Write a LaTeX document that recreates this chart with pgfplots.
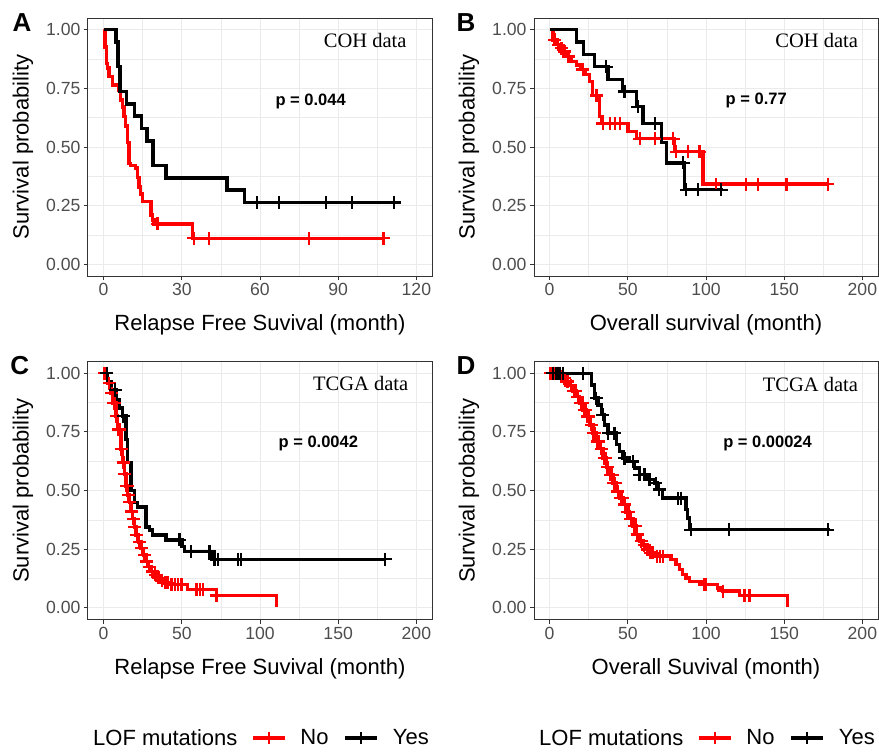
\documentclass[border=0pt]{standalone}
\usepackage{fontspec}
\setmainfont{Liberation Sans}
\newfontfamily\seriffont{Liberation Serif}
\usepackage{pgfplots}
\pgfplotsset{compat=1.18}
\definecolor{gridc}{HTML}{EBEBEB}
\definecolor{framec}{HTML}{333333}
\definecolor{tickc}{HTML}{4D4D4D}
\definecolor{kmred}{HTML}{FF0000}
\pgfplotsset{
 km/.style={
  scale only axis, width=344pt, height=258pt,
  clip mode=individual,
  ymin=-0.05, ymax=1.05,
  ytick={0,0.25,0.5,0.75,1},
  y tick label style={/pgf/number format/fixed, /pgf/number format/fixed zerofill, /pgf/number format/precision=2},
  minor x tick num=1, minor y tick num=1,
  grid=both,
  major grid style={gridc, line width=1pt},
  minor grid style={gridc, line width=0.55pt},
  axis line style={framec, line width=1pt},
  major tick style={framec, line width=1pt},
  major tick length=4pt, minor tick length=0pt,
  tick align=outside, tick pos=left,
  tick label style={font=\fontsize{17.6}{20}\selectfont, text=tickc},
  /pgf/number format/assume math mode=true,
  label style={font=\fontsize{22}{26}\selectfont},
  xlabel style={at={(axis description cs:0.5,-0.19)}, anchor=center},
  ylabel style={at={(axis description cs:-0.189,0.5)}, anchor=center},
  ylabel={Survival probability},
  legend style={draw=none, fill=none, inner sep=0pt, outer sep=0pt,
    legend columns=-1, font=\fontsize{22}{26}\selectfont,
    nodes={inner sep=0pt},
    /tikz/every odd column/.append style={column sep=14pt},
    /tikz/every even column/.append style={column sep=15pt},
    at={(axis description cs:0.474,-0.459)}, anchor=west},
  legend image code/.code={\draw[mark repeat=2, mark phase=2, #1] plot coordinates {(0pt,0pt) (16pt,0pt) (32pt,0pt)};},
 },
 kmline/.style={const plot, line width=3.4pt, mark=none, forget plot},
 kmcens/.style={only marks, mark=+, mark size=6.5pt, mark options={line width=2.3pt}, forget plot},
 kmleg/.style={line width=3.4pt, mark=+, mark size=6pt, mark options={line width=2.3pt}},
}
\newcommand{\letter}[1]{{\fontsize{26}{30}\selectfont\bfseries #1}}
\begin{document}
\begin{tikzpicture}
\path[use as bounding box] (0pt,0pt) rectangle (879pt,-753pt);

% ---------------- A ----------------
\begin{axis}[km, at={(88pt,-18pt)}, anchor=north west,
  xmin=-6, xmax=126, xtick={0,30,60,90,120},
  xlabel={Relapse Free Suvival (month)}]
\addplot[kmline, kmred] coordinates {
(0,1) (0.5,0.926) (1.0,0.857) (1.4,0.836) (2.1,0.80) (3.3,0.765) (5.9,0.74)
(6.5,0.70) (7.2,0.67) (7.8,0.63) (8.5,0.59) (9.1,0.52) (9.8,0.43) (10.4,0.42)
(12.3,0.41) (13.0,0.37) (13.6,0.33) (14.2,0.30) (14.9,0.268) (18.1,0.21)
(18.8,0.189) (19.4,0.172) (34.0,0.111) (107.4,0.111)};
\addplot[kmline, black] coordinates {
(0,1) (4.7,0.947) (5.5,0.842) (6.3,0.737) (8.7,0.684) (11.9,0.632) (14.6,0.579)
(16.6,0.526) (19.0,0.421) (23.9,0.368) (47.4,0.316) (54.1,0.263) (111.5,0.263)};
\addplot[kmcens, kmred] coordinates {
(20.7,0.172) (34.6,0.111) (40.4,0.111) (78.8,0.111) (107.4,0.111)};
\addplot[kmcens, black] coordinates {
(58.8,0.263) (67.3,0.263) (85.2,0.263) (95.2,0.263) (111.5,0.263)};
\node[anchor=east, font=\seriffont\fontsize{20.5}{24}\selectfont] at (axis description cs:0.936,0.911) {COH data};
\node[anchor=west, font=\fontsize{16.5}{20}\selectfont\bfseries] at (axis description cs:0.535,0.678) {p = 0.044};
\node at (axis description cs:-0.192,0.984) {\letter{A}};
\end{axis}

% ---------------- B ----------------
\begin{axis}[km, at={(534pt,-18pt)}, anchor=north west,
  xmin=-10, xmax=210, xtick={0,50,100,150,200},
  xlabel={Overall survival (month)}]
\addplot[kmline, kmred] coordinates {
(0,1) (2.1,0.957) (4.5,0.936) (6.5,0.921) (8.5,0.907) (11,0.886) (14,0.865)
(17,0.85) (20,0.83) (23,0.808) (25.6,0.78) (27.3,0.72) (32.0,0.63) (33.5,0.600)
(50.1,0.567) (55.4,0.535) (80.0,0.48) (98.1,0.342) (178,0.342)};
\addplot[kmline, black] coordinates {
(0,1) (17.1,0.947) (21.7,0.895) (28.8,0.842) (37.3,0.789) (46.5,0.737)
(55.4,0.672) (59.7,0.60) (71.4,0.518) (74.6,0.432) (86.3,0.318) (110.9,0.318)};
\addplot[kmcens, kmred] coordinates {
(3.2,0.957) (5.5,0.936) (7.5,0.921) (9.5,0.907) (12,0.886) (21.3,0.83)
(29.9,0.72) (34.1,0.600) (38.4,0.600) (41.6,0.600) (44.8,0.600) (57.6,0.535)
(67.2,0.535) (78.9,0.535) (81.0,0.48) (88.5,0.48) (95.9,0.48) (106.6,0.342)
(125.8,0.342) (133.2,0.342) (151.4,0.342) (178.0,0.342)};
\addplot[kmcens, black] coordinates {
(36.2,0.842) (47.9,0.737) (56.5,0.672) (67.2,0.60) (85.3,0.432) (87.4,0.318)
(94.9,0.318) (109.8,0.318)};
\node[anchor=east, font=\seriffont\fontsize{20.5}{24}\selectfont] at (axis description cs:0.952,0.911) {COH data};
\node[anchor=west, font=\fontsize{16.5}{20}\selectfont\bfseries] at (axis description cs:0.547,0.682) {p = 0.77};
\node at (axis description cs:-0.198,0.984) {\letter{B}};
\end{axis}

% ---------------- C ----------------
\begin{axis}[km, at={(88pt,-361.5pt)}, anchor=north west,
  xmin=-10, xmax=210, xtick={0,50,100,150,200},
  xlabel={Relapse Free Suvival (month)}]
\addplot[kmline, kmred] coordinates {
(0,1) (2.6,0.958) (4.7,0.915) (5.8,0.873) (7.9,0.817) (9,0.76) (11.1,0.676)
(12.2,0.62) (13.2,0.57) (14.3,0.52) (15.4,0.48) (16.5,0.45) (17.5,0.41)
(18.6,0.38) (19.6,0.345) (20.7,0.31) (22.3,0.28) (23.9,0.254) (25.5,0.225)
(27.1,0.197) (28.7,0.175) (30.3,0.155) (32.5,0.14) (34.6,0.127) (36.7,0.115)
(38.9,0.106) (43.2,0.099) (53.8,0.077) (72,0.052) (110.7,0.005)};
\addplot[kmline, black] coordinates {
(0,1) (2.6,0.965) (4.7,0.93) (7.9,0.887) (10,0.852) (12.2,0.817) (14.3,0.718)
(15.4,0.62) (17.5,0.50) (19.7,0.45) (21.8,0.43) (27.1,0.345) (29.2,0.331)
(31.4,0.31) (40,0.289) (50,0.262) (51.9,0.24) (68.8,0.207) (180,0.207)};
\addplot[kmcens, kmred] coordinates {
(0.3,1) (1.5,1) (3.5,0.958) (5.2,0.915) (6.5,0.873) (7.2,0.873) (8.3,0.817)
(9.5,0.76) (10.2,0.76) (11.5,0.676) (12.7,0.62) (13.6,0.57) (14.6,0.52)
(15.0,0.52) (15.8,0.48) (16.8,0.45) (18.0,0.41) (19.0,0.38) (20.0,0.345)
(21.2,0.31) (22.8,0.28) (24.4,0.254) (26.0,0.225) (27.6,0.197) (29.2,0.175)
(31.0,0.155) (33.0,0.14) (35.0,0.127) (37.2,0.115) (39.5,0.106) (41,0.106)
(43.4,0.099) (45.5,0.099) (47.6,0.099) (49.8,0.099) (59.4,0.077) (61.5,0.077)
(63.7,0.077) (72.2,0.052)};
\addplot[kmcens, black] coordinates {
(2.1,1) (7.3,0.93) (12.5,0.817) (48.5,0.289) (56,0.24) (67.7,0.24)
(70.9,0.207) (73,0.207) (85.9,0.207) (88,0.207) (180,0.207)};
\node[anchor=east, font=\seriffont\fontsize{20.5}{24}\selectfont] at (axis description cs:0.941,0.915) {TCGA data};
\node[anchor=west, font=\fontsize{16.5}{20}\selectfont\bfseries] at (axis description cs:0.544,0.683) {p = 0.0042};
\node at (axis description cs:-0.198,0.986) {\letter{C}};
\node[anchor=west, inner sep=0pt, font=\fontsize{22}{26}\selectfont] at (axis description cs:0.0145,-0.459) {LOF mutations};
\addlegendimage{kmleg, kmred}\addlegendentry{No}
\addlegendimage{kmleg, black}\addlegendentry{Yes}
\end{axis}

% ---------------- D ----------------
\begin{axis}[km, at={(534pt,-361.5pt)}, anchor=north west,
  xmin=-10, xmax=210, xtick={0,50,100,150,200},
  xlabel={Overall Suvival (month)}]
\addplot[kmline, kmred] coordinates {
(0,1) (6.4,0.986) (8.5,0.979) (10.6,0.965) (12.8,0.948) (14.9,0.925) (17.0,0.90)
(19.1,0.872) (21.3,0.844) (23.4,0.816) (25.5,0.78) (27.7,0.745) (29.8,0.709)
(31.9,0.678) (34.0,0.638) (36.2,0.599) (38.3,0.567) (40.4,0.532) (42.6,0.496)
(44.7,0.468) (46.8,0.44) (48.9,0.409) (51.1,0.38) (53.2,0.348) (55.3,0.312)
(57.4,0.284) (59.6,0.267) (61.7,0.248) (63.8,0.234) (67.0,0.22) (77.7,0.205)
(80.8,0.184) (83,0.162) (85.1,0.141) (87.2,0.127) (89.4,0.113) (97.5,0.099)
(107.4,0.085) (110.6,0.071) (121.3,0.052) (152,0.005)};
\addplot[kmline, black] coordinates {
(0,1) (26.6,0.95) (28.7,0.894) (30.9,0.865) (33,0.823) (35.1,0.78) (37.2,0.745)
(42.6,0.695) (44.7,0.667) (46.8,0.638) (51,0.624) (54.3,0.596) (57.4,0.567)
(61.7,0.546) (67,0.532) (69.1,0.504) (72.3,0.468) (87.2,0.418) (88.3,0.383)
(89.4,0.333) (179,0.333)};
\addplot[kmcens, kmred] coordinates {
(0.5,1) (1.5,1) (2.5,1) (3.5,1) (5,1) (7.5,0.986) (9.5,0.979) (11.5,0.965)
(13.5,0.948) (15.5,0.925) (16.5,0.925) (18,0.90) (20,0.872) (21,0.872)
(22,0.844) (23,0.844) (24,0.816) (25,0.816) (26.5,0.78) (28,0.745) (29,0.745)
(30.5,0.709) (31.5,0.709) (33,0.678) (35,0.638) (36,0.638) (37,0.599)
(39,0.567) (40,0.567) (41,0.532) (42,0.532) (43.5,0.496) (45.5,0.468)
(46.5,0.468) (48,0.44) (49.5,0.409) (50.5,0.409) (52,0.38) (54,0.348)
(55,0.348) (56,0.312) (58.5,0.284) (60.5,0.267) (62.5,0.248) (64.5,0.234)
(66,0.234) (68.5,0.22) (70.5,0.22) (72.5,0.22) (99.1,0.099) (100.2,0.099)
(110.9,0.071) (124.7,0.052) (127.9,0.052)};
\addplot[kmcens, black] coordinates {
(2.1,1) (4.3,1) (5.3,1) (6.8,1) (8.5,1) (21.3,1) (29.8,0.894) (34,0.823)
(37.5,0.745) (41.5,0.745) (47.9,0.638) (53.2,0.624) (57.4,0.567) (60.6,0.567)
(63.8,0.546) (68,0.532) (70,0.504) (81.9,0.468) (84,0.468) (90.4,0.333)
(114.9,0.333) (178,0.333)};
\node[anchor=east, font=\seriffont\fontsize{20.5}{24}\selectfont] at (axis description cs:0.952,0.909) {TCGA data};
\node[anchor=west, font=\fontsize{16.5}{20}\selectfont\bfseries] at (axis description cs:0.54,0.683) {p = 0.00024};
\node at (axis description cs:-0.198,0.986) {\letter{D}};
\node[anchor=west, inner sep=0pt, font=\fontsize{22}{26}\selectfont] at (axis description cs:0.0145,-0.459) {LOF mutations};
\addlegendimage{kmleg, kmred}\addlegendentry{No}
\addlegendimage{kmleg, black}\addlegendentry{Yes}
\end{axis}
\end{tikzpicture}
\end{document}
